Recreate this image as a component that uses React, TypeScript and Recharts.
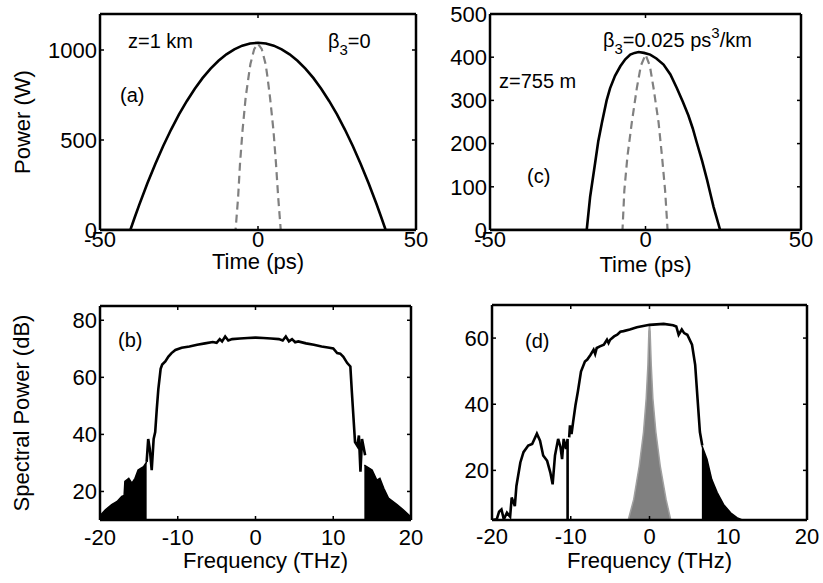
import React from "react";
import { ComposedChart, Line, Area, XAxis, YAxis, Label } from "recharts";

type Pt = [number, number];

// (a) z = 1 km, beta3 = 0 : output pulse (solid) and input pulse (dashed), W vs ps
const aOutput: Pt[] = [
  [-50, 0], [-40.4, 0], [-39, 71], [-37.5, 144], [-35, 260], [-32.5, 367], [-30, 467],
  [-27.5, 558], [-25, 642], [-22.5, 717], [-20, 785], [-17.5, 845], [-15, 897],
  [-12.5, 940], [-10, 976], [-7.5, 1004], [-5, 1024], [-2.5, 1036], [0, 1040],
  [2.5, 1036], [5, 1024], [7.5, 1004], [10, 976], [12.5, 940], [15, 897], [17.5, 845],
  [20, 785], [22.5, 717], [25, 642], [27.5, 558], [30, 467], [32.5, 367], [35, 260],
  [37.5, 144], [39, 71], [40.4, 0], [50, 0],
];
const aInput: Pt[] = [
  [-50, 0], [-7.1, 0], [-6.3, 180], [-5.7, 367], [-4.9, 552], [-3.9, 737], [-3, 850],
  [-2.4, 922], [-1.2, 1005], [0, 1035], [1.2, 1005], [2.4, 922], [3, 850], [3.8, 737],
  [4.9, 552], [5.7, 367], [6.4, 180], [7.2, 0], [50, 0],
];

// (c) z = 755 m, beta3 = 0.025 ps^3/km
const cOutput: Pt[] = [
  [-50, 0], [-18.9, 0], [-17.8, 77], [-16.2, 155], [-15.2, 205], [-14, 249], [-12.5, 300],
  [-11.4, 328], [-9.8, 357], [-8.1, 379], [-6.5, 395], [-4.9, 406], [-3.5, 410],
  [-2.2, 412], [-0.5, 410], [1.5, 406], [3.5, 397], [5.8, 383], [8, 360], [10.1, 328],
  [12, 297], [13.8, 265], [15.2, 235], [16.5, 202], [18.2, 160], [19.8, 116], [21, 80],
  [21.9, 53], [24, 0], [50, 0],
];
const cInput: Pt[] = [
  [-50, 0], [-7.4, 0], [-6.8, 92], [-5.8, 171], [-4.4, 249], [-2.8, 328], [-1.5, 380],
  [0, 406], [1.4, 380], [2.6, 328], [4.2, 249], [5.3, 171], [6.3, 92], [7.1, 0], [50, 0],
];

// (b) spectrum, dB vs THz
const bWingLeft: Pt[] = [
  [-20, 11.5], [-19.3, 13.6], [-18.5, 15.4], [-17.8, 16.5], [-17.2, 18.3], [-16.9, 18.6],
  [-16.8, 23.5], [-16.3, 24.6], [-15.9, 22.9], [-15.5, 24.6], [-15.1, 27.5], [-14.4, 28.7],
  [-14, 30.4],
];
const bCore: Pt[] = [
  [-14, 30.4], [-13.8, 38.4], [-13.6, 35], [-13.35, 27.5], [-13.1, 38.4], [-12.9, 40.8],
  [-12.7, 48.8], [-12.5, 55.8], [-12.2, 63], [-12, 64.5], [-11.6, 65.6], [-11.2, 67.3],
  [-10.8, 68.5], [-10.3, 69.6], [-9.5, 70.4], [-8.5, 70.8], [-7.5, 71.4], [-6.5, 71.9],
  [-5.5, 72.4], [-5, 72.1], [-4.6, 73.4], [-4.3, 72.6], [-3.9, 74.3], [-3.5, 72.9],
  [-3, 73.4], [-2, 73.6], [-1, 73.8], [0, 73.9], [1, 73.8], [2, 73.6], [3, 73.4],
  [3.5, 72.9], [3.9, 74.3], [4.3, 72.6], [4.7, 73.4], [5.1, 72.3], [5.5, 72.6],
  [6.5, 71.9], [7.5, 71.4], [8.5, 70.8], [9.5, 70.4], [10, 70.1], [10.5, 68.5],
  [10.9, 68.3], [11.3, 67.2], [11.8, 65], [12.2, 63.8], [12.4, 54.6], [12.8, 37.3],
  [13.1, 36], [13.3, 39.6], [13.5, 26.9], [13.7, 38.4], [14.1, 32.7],
];
const bWingRight: Pt[] = [
  [14, 29.2], [14.3, 28.7], [15, 27.5], [15.6, 24], [16, 24.6], [16.5, 21.1], [17.1, 17.7],
  [18.2, 15.4], [19, 13.6], [19.9, 11.3], [20, 11],
];

// (d) spectrum with beta3
const dLeftTail: Pt[] = [
  [-20, 5], [-19.4, 5.2], [-19.1, 7.5], [-18.8, 8.2], [-18.5, 5.2], [-18.1, 7.2], [-17.7, 6],
  [-17.5, 11.8], [-17.1, 9.2], [-16.9, 15.3], [-16.4, 22.4], [-16, 25.5], [-15.4, 27.5],
  [-14.9, 28], [-14.3, 31.1], [-13.9, 29], [-13.5, 24.5], [-13, 22.9], [-12.6, 19.4],
  [-12.3, 15.8], [-12, 24.5], [-11.6, 29.5], [-11.3, 27], [-11.1, 23.4], [-10.9, 29.5],
  [-10.6, 26.5], [-10.4, 29.5], [-10.4, 5],
];
const dCore: Pt[] = [
  [-10.2, 30], [-10.1, 33.6], [-9.9, 31], [-9.7, 34.6], [-9.4, 39.7], [-9.1, 43.8],
  [-8.7, 49.9], [-8.2, 52.9], [-7.9, 53.5], [-7.5, 54.9], [-7.1, 56.5], [-6.9, 55.2],
  [-6.7, 57], [-6.3, 57.5], [-5.8, 58], [-5.4, 59.5], [-5.2, 58.5], [-5, 59.5],
  [-4.5, 60.5], [-4.1, 61], [-3.7, 61.9], [-3.3, 62.1], [-2.5, 62.6], [-1.6, 63.3],
  [0, 64], [1.8, 64.3], [3, 63.9], [3.4, 63.5], [3.7, 61], [4.1, 62.6], [4.4, 61.5],
  [4.8, 61], [5.4, 58], [5.8, 51.9], [6.1, 41.7], [6.4, 31.6], [6.7, 27.5],
];
const dWingRight: Pt[] = [
  [6.65, 27.5], [7.3, 23.4], [7.9, 17.3], [8.6, 13.3], [9.4, 9.7], [10.3, 7.2],
  [11.1, 5.7], [11.7, 5.1],
];
const dInput: Pt[] = [
  [-2.7, 5], [-2, 11.3], [-1.3, 21.4], [-0.76, 31.6], [-0.42, 41.7], [-0.2, 51.9],
  [-0.08, 62], [0, 64.1], [0.08, 62], [0.22, 51.9], [0.43, 41.7], [0.81, 31.6],
  [1.36, 21.4], [2.1, 11.3], [2.7, 5],
];

const timeTicks = [-50, 0, 50];
const freqTicks = [-20, -10, 0, 10, 20];
const aPowerTicks = [0, 500, 1000];
const cPowerTicks = [0, 100, 200, 300, 400, 500];
const bDbTicks = [20, 40, 60, 80];
const dDbTicks = [20, 40, 60];

const rows = (pts: Pt[]) => pts.map(([x, y]) => ({ x, y }));

const FONT = 22;
const axisLine = { stroke: "#000", strokeWidth: 2.5 };
const tickLine = { stroke: "#000", strokeWidth: 1.5 };
const blank = () => "";

interface PanelProps {
  left: number;
  top: number;
  width: number;
  height: number;
  plotTop: number;
  marginRight: number;
  yAxisWidth: number;
  xAxisHeight: number;
  xDomain: [number, number];
  xTicks: number[];
  yDomain: [number, number];
  yTicks: number[];
  xTickMargin: number;
  xLabel: string;
  xLabelOffset: number;
  xLabelDx?: number;
  yLabel?: string;
  yLabelDx?: number;
  series: React.ReactNode[];
}

function Panel(p: PanelProps) {
  return (
    <div style={{ position: "absolute", left: p.left, top: p.top }}>
      <ComposedChart
        width={p.width}
        height={p.height}
        margin={{ top: p.plotTop - 1, right: p.marginRight - 1, left: 0, bottom: 0 }}
      >
        {p.series}
        <XAxis
          type="number"
          dataKey="x"
          domain={p.xDomain}
          ticks={p.xTicks}
          interval={0}
          allowDataOverflow
          height={p.xAxisHeight}
          tickSize={-4}
          tickMargin={p.xTickMargin}
          axisLine={axisLine}
          tickLine={tickLine}
          tick={{ fill: "#000", fontSize: FONT }}
        >
          <Label
            value={p.xLabel}
            position="insideBottom"
            offset={p.xLabelOffset}
            dx={p.xLabelDx ?? 0}
            style={{ fill: "#000", fontSize: FONT }}
          />
        </XAxis>
        <XAxis
          xAxisId="top"
          orientation="top"
          type="number"
          dataKey="x"
          domain={p.xDomain}
          ticks={p.xTicks}
          interval={0}
          allowDataOverflow
          height={1}
          tickSize={-4}
          axisLine={axisLine}
          tickLine={tickLine}
          tickFormatter={blank}
        />
        <YAxis
          type="number"
          dataKey="y"
          domain={p.yDomain}
          ticks={p.yTicks}
          interval={0}
          allowDataOverflow
          width={p.yAxisWidth}
          tickSize={-4}
          tickMargin={7}
          axisLine={axisLine}
          tickLine={tickLine}
          tick={{ fill: "#000", fontSize: FONT }}
        >
          {p.yLabel && (
            <Label
              value={p.yLabel}
              angle={-90}
              position="center"
              dx={p.yLabelDx ?? 0}
              style={{ fill: "#000", fontSize: FONT, textAnchor: "middle" }}
            />
          )}
        </YAxis>
        <YAxis
          yAxisId="right"
          orientation="right"
          type="number"
          domain={p.yDomain}
          ticks={p.yTicks}
          interval={0}
          allowDataOverflow
          width={1}
          tickSize={-4}
          axisLine={axisLine}
          tickLine={tickLine}
          tickFormatter={blank}
        />
      </ComposedChart>
    </div>
  );
}

const solid = (key: string, pts: Pt[]) => (
  <Line
    key={key}
    data={rows(pts)}
    dataKey="y"
    type="linear"
    stroke="#000"
    strokeWidth={2.6}
    dot={false}
    activeDot={false}
    isAnimationActive={false}
  />
);

const dashed = (key: string, pts: Pt[]) => (
  <Line
    key={key}
    data={rows(pts)}
    dataKey="y"
    type="linear"
    stroke="#808080"
    strokeWidth={2.2}
    strokeDasharray="8 5"
    dot={false}
    activeDot={false}
    isAnimationActive={false}
  />
);

const filled = (key: string, pts: Pt[], base: number, fill: string, stroke: string) => (
  <Area
    key={key}
    data={rows(pts)}
    dataKey="y"
    type="linear"
    baseValue={base}
    fill={fill}
    fillOpacity={1}
    stroke={stroke}
    strokeWidth={1.5}
    dot={false}
    activeDot={false}
    isAnimationActive={false}
  />
);

export default function App() {
  return (
    <div
      style={{
        position: "absolute",
        left: 0,
        top: 0,
        width: 823,
        height: 583,
        background: "#fff",
        fontFamily: "'Liberation Sans', Arial, sans-serif",
      }}
    >
      {/* (a) */}
      <Panel
        left={0}
        top={0}
        width={440}
        height={280}
        plotTop={14}
        marginRight={24}
        yAxisWidth={100}
        xAxisHeight={50}
        xDomain={[-50, 50]}
        xTicks={timeTicks}
        yDomain={[0, 1200]}
        yTicks={aPowerTicks}
        xTickMargin={5}
        xLabel="Time (ps)"
        xLabelOffset={11}
        yLabel="Power (W)"
        yLabelDx={-28}
        series={[solid("out", aOutput), dashed("in", aInput)]}
      />
      {/* (c) */}
      <Panel
        left={440}
        top={0}
        width={383}
        height={280}
        plotTop={14}
        marginRight={22}
        yAxisWidth={50}
        xAxisHeight={50}
        xDomain={[-50, 50]}
        xTicks={timeTicks}
        yDomain={[0, 500]}
        yTicks={cPowerTicks}
        xTickMargin={5}
        xLabel="Time (ps)"
        xLabelOffset={8}
        series={[solid("out", cOutput), dashed("in", cInput)]}
      />
      {/* (b) */}
      <Panel
        left={0}
        top={280}
        width={440}
        height={303}
        plotTop={26}
        marginRight={29}
        yAxisWidth={100}
        xAxisHeight={63}
        xDomain={[-20, 20]}
        xTicks={freqTicks}
        yDomain={[10, 85]}
        yTicks={bDbTicks}
        xTickMargin={13}
        xLabel="Frequency (THz)"
        xLabelOffset={15}
        xLabelDx={10}
        yLabel="Spectral Power (dB)"
        yLabelDx={-29}
        series={[
          filled("wl", bWingLeft, 10, "#000", "#000"),
          filled("wr", bWingRight, 10, "#000", "#000"),
          solid("core", bCore),
        ]}
      />
      {/* (d) */}
      <Panel
        left={440}
        top={280}
        width={383}
        height={303}
        plotTop={25}
        marginRight={16}
        yAxisWidth={52}
        xAxisHeight={63}
        xDomain={[-20, 20]}
        xTicks={freqTicks}
        yDomain={[5, 70]}
        yTicks={dDbTicks}
        xTickMargin={12}
        xLabel="Frequency (THz)"
        xLabelOffset={15}
        series={[
          solid("tail", dLeftTail),
          filled("wr", dWingRight, 5, "#000", "#000"),
          solid("core", dCore),
          filled("in", dInput, 5, "#808080", "#a0a0a0"),
        ]}
      />

      {/* panel annotations */}
      <svg
        width={823}
        height={583}
        style={{ position: "absolute", left: 0, top: 0, pointerEvents: "none" }}
      >
        <g fill="#000" fontSize={20}>
          <text x={128} y={48}>z=1 km</text>
          <text x={328} y={48}>
            β<tspan dy={7} fontSize={15}>3</tspan>
            <tspan dy={-7}>=0</tspan>
          </text>
          <text x={120} y={102}>(a)</text>

          <text x={603} y={47}>
            β<tspan dy={7} fontSize={15}>3</tspan>
            <tspan dy={-7}>=0.025 ps</tspan>
            <tspan dy={-9} fontSize={15}>3</tspan>
            <tspan dy={9}>/km</tspan>
          </text>
          <text x={499} y={88}>z=755 m</text>
          <text x={527} y={183}>(c)</text>

          <text x={118} y={347}>(b)</text>
          <text x={525} y={348}>(d)</text>
        </g>
      </svg>
    </div>
  );
}
